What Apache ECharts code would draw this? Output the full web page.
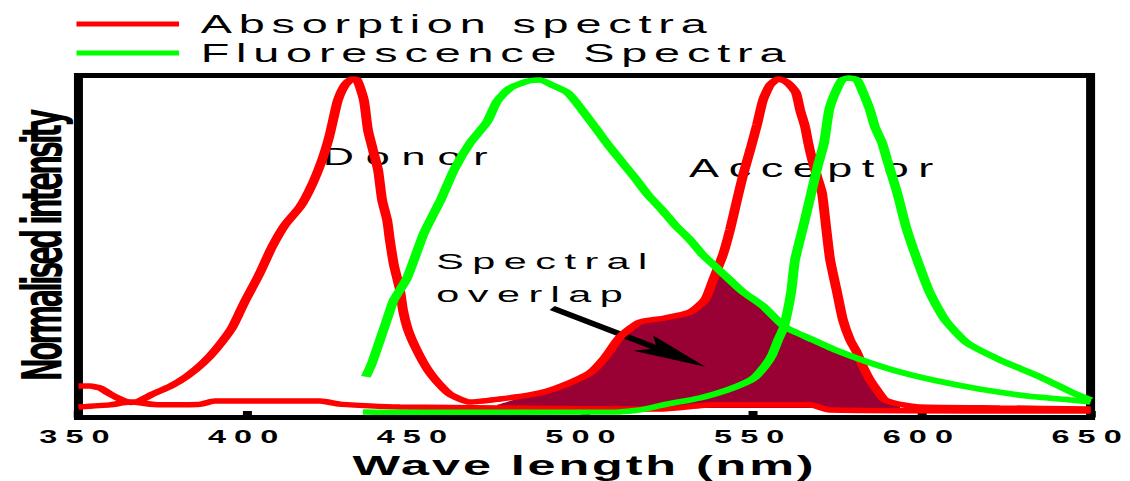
<!DOCTYPE html>
<html>
<head>
<meta charset="utf-8">
<script src="https://cdn.jsdelivr.net/npm/echarts@6/dist/echarts.min.js"></script>
<style>
  html, body { margin: 0; padding: 0; background: #fff; overflow: hidden; }
  #wrap { width: 1130px; height: 481px; overflow: hidden; }
  #main { width: 628px; height: 481px; transform: scaleX(1.799363); transform-origin: 0 0; }
  /* letter spacing per text group (selected by font size) */
  #main text[style*="26px"] { letter-spacing: 3.8px; }
  #main text[style*="24px"] { letter-spacing: 6.6px; }
  #main text[style*="25px"] { letter-spacing: 5.3px; }
  #main text[style*="23px"] { letter-spacing: 4.7px; }
  #main text[style*="18px"] { letter-spacing: 4.5px; }
  #main text[style*="28px"] { letter-spacing: 1.6px; }
  #main text[style*="31px"] { letter-spacing: -2.9px; }
</style>
</head>
<body>
<div id="wrap"><div id="main"></div></div>
<script>
// ---- tick labels / axis ----
const xTicks = [350, 400, 450, 500, 550, 600, 650];
const legendNames = ['Absorption spectra', 'Fluorescence Spectra'];

// ---- Absorption spectra (donor + acceptor, main curve) ----
const absNm  = [350.0, 353.4, 356.4, 359.3, 362.3, 365.3, 367.5, 372.1, 377.4, 382.2, 386.9, 390.8, 395.5, 399.1, 403.5, 407.4, 411.2, 415.7, 419.2, 422.2, 424.3, 425.7, 426.9, 429.0, 431.1, 432.6, 434.6, 435.8, 437.3, 438.8, 440.0, 441.5, 442.3, 443.5, 445.3, 446.2, 447.7, 450.3, 453.6, 457.2, 460.4, 466.1, 474.9, 483.8, 488.9, 494.8, 501.6, 506.1, 510.5, 516.4, 523.8, 531.3, 535.7, 538.1, 541.0, 543.1, 545.2, 547.0, 549.1, 551.1, 552.9, 555.0, 557.4, 559.4, 560.9, 562.7, 563.9, 565.4, 566.3, 567.5, 569.0, 570.4, 571.6, 572.8, 574.9, 576.6, 578.7, 580.8, 582.6, 584.6, 586.7, 589.1, 594.4, 599.4, 623.2, 650.0];
const absVal = [0.092, 0.092, 0.086, 0.069, 0.054, 0.044, 0.046, 0.069, 0.092, 0.121, 0.159, 0.200, 0.262, 0.335, 0.417, 0.499, 0.563, 0.616, 0.680, 0.753, 0.820, 0.879, 0.928, 0.972, 0.990, 0.987, 0.928, 0.841, 0.782, 0.724, 0.636, 0.577, 0.519, 0.446, 0.373, 0.314, 0.256, 0.197, 0.139, 0.095, 0.066, 0.045, 0.054, 0.066, 0.077, 0.098, 0.130, 0.176, 0.235, 0.279, 0.291, 0.308, 0.344, 0.402, 0.475, 0.548, 0.636, 0.709, 0.782, 0.855, 0.928, 0.972, 0.990, 0.984, 0.972, 0.949, 0.899, 0.849, 0.803, 0.753, 0.703, 0.656, 0.557, 0.461, 0.364, 0.285, 0.227, 0.189, 0.148, 0.110, 0.080, 0.051, 0.037, 0.031, 0.028, 0.025];

// ---- Absorption spectra (flat baseline trace) ----
const absBaseNm  = [350.0, 359.3, 365.3, 374.2, 386.0, 390.5, 421.6, 427.5, 436.4, 445.3, 474.9, 510.0, 523.3, 538.1, 566.8, 572.7, 650.0];
const absBaseVal = [0.031, 0.037, 0.045, 0.037, 0.039, 0.048, 0.048, 0.039, 0.034, 0.031, 0.028, 0.025, 0.025, 0.037, 0.037, 0.022, 0.019];

// ---- Fluorescence spectra (donor) ----
const fluoDonorNm  = [435.2, 437.0, 439.4, 441.7, 443.5, 447.4, 452.4, 457.5, 461.3, 466.1, 471.1, 474.1, 477.9, 483.3, 486.8, 490.4, 495.1, 499.3, 503.1, 507.0, 511.1, 515.0, 518.8, 523.0, 526.8, 531.3, 535.1, 539.3, 543.1, 547.0, 552.9, 559.4, 567.7, 575.7, 584.0, 593.5, 604.5, 617.2, 631.2, 644.5, 650.0];
const fluoDonorVal = [0.119, 0.159, 0.227, 0.294, 0.344, 0.408, 0.539, 0.639, 0.724, 0.803, 0.864, 0.925, 0.963, 0.984, 0.987, 0.972, 0.949, 0.899, 0.849, 0.797, 0.747, 0.700, 0.651, 0.607, 0.563, 0.519, 0.475, 0.437, 0.402, 0.367, 0.326, 0.265, 0.227, 0.192, 0.162, 0.133, 0.107, 0.083, 0.063, 0.051, 0.045];

// ---- Fluorescence spectra (acceptor) ----
const fluoAccNm  = [434.3, 445.3, 509.6, 516.4, 524.4, 534.2, 542.2, 547.6, 550.5, 553.5, 555.6, 557.4, 559.1, 561.2, 562.4, 564.8, 567.2, 569.2, 571.0, 572.5, 574.3, 576.3, 578.4, 580.8, 582.6, 584.6, 586.1, 588.2, 589.7, 592.7, 595.3, 598.6, 602.4, 606.9, 613.4, 623.2, 635.0, 644.8, 650.0];
const fluoAccVal = [0.016, 0.015, 0.016, 0.022, 0.039, 0.057, 0.080, 0.101, 0.118, 0.151, 0.183, 0.227, 0.265, 0.364, 0.461, 0.557, 0.656, 0.738, 0.803, 0.899, 0.949, 0.987, 0.993, 0.987, 0.949, 0.899, 0.849, 0.803, 0.753, 0.656, 0.557, 0.461, 0.364, 0.285, 0.218, 0.168, 0.119, 0.072, 0.051];

// ---- Spectral overlap (upper edge of shaded region) ----
const overlapNm  = [474.1, 480.9, 488.9, 494.8, 501.6, 506.1, 510.5, 516.4, 523.8, 531.3, 535.7, 538.1, 539.6, 543.1, 547.0, 552.9, 559.4, 567.7, 575.7, 578.7, 580.8, 582.6, 584.6, 586.7, 589.1, 592.0, 593.5];
const overlapVal = [0.037, 0.057, 0.077, 0.098, 0.130, 0.176, 0.235, 0.279, 0.291, 0.308, 0.344, 0.402, 0.434, 0.402, 0.367, 0.326, 0.265, 0.227, 0.197, 0.183, 0.168, 0.148, 0.110, 0.080, 0.051, 0.037, 0.031];

const pairs = (xs, ys) => xs.map((x, i) => [x, ys[i]]);

const RED = '#ff0000', GREEN = '#00ff00', FILL = '#990033';
const SANS = '"Liberation Sans", Arial, sans-serif';
const NARROW = '"Liberation Sans Narrow", "DejaVu Sans Condensed", "Liberation Sans", sans-serif';

const chart = echarts.init(document.getElementById('main'), null, { renderer: 'svg' });

const lineBase = {
  type: 'line', symbol: 'none', showSymbol: false, clip: false,
  smooth: 0.2, silent: true, animation: false, z: 3
};

chart.setOption({
  animation: false,
  backgroundColor: '#fff',
  grid: {
    left: 43.6, right: 21.9, top: 75.5, bottom: 63.5,
    containLabel: false, outerBoundsMode: 'none',
    show: true, borderColor: '#000', borderWidth: 5
  },
  legend: {
    data: legendNames,
    orient: 'vertical',
    left: 42.5, top: 11,
    padding: 0,
    itemGap: 3,
    itemWidth: 57, itemHeight: 5,
    icon: 'rect',
    selectedMode: false,
    textStyle: { color: '#000', fontSize: 26, fontFamily: SANS, lineHeight: 26, padding: [0, 0, 0, 7] }
  },
  xAxis: {
    type: 'value',
    min: xTicks[0], max: xTicks[xTicks.length - 1], interval: xTicks[1] - xTicks[0],
    name: 'Wave length (nm)', nameLocation: 'middle', nameGap: 34,
    nameTextStyle: { color: '#000', fontSize: 28, lineHeight: 28, fontWeight: 'bold', fontFamily: SANS },
    axisLine: { show: false },
    axisTick: { show: true, inside: true, length: 6.5, lineStyle: { color: '#000', width: 5 } },
    axisLabel: { color: '#000', fontSize: 18, fontWeight: 'bold', fontFamily: SANS, margin: 10 },
    splitLine: { show: false }
  },
  yAxis: {
    type: 'value', min: 0, max: 1,
    name: 'Normalised intensity', nameLocation: 'middle', nameGap: 5,
    nameTextStyle: { color: '#000', fontSize: 31, fontWeight: 'bold', fontFamily: NARROW },
    axisLine: { show: false }, axisTick: { show: false }, axisLabel: { show: false },
    splitLine: { show: false }
  },
  series: [
    {
      name: 'overlap', type: 'line', symbol: 'none', showSymbol: false, silent: true,
      animation: false, z: 1, clip: false, smooth: 0.2,
      data: pairs(overlapNm, overlapVal),
      lineStyle: { width: 0, opacity: 0 },
      areaStyle: { color: FILL, opacity: 1, origin: 0.028 },
      markPoint: {
        silent: true, animation: false, z: 1.5,
        symbol: 'circle', symbolSize: 1,
        itemStyle: { color: 'rgba(0,0,0,0)' },
        data: [
          { coord: [448.6, 0.762], label: { show: true, position: 'inside', formatter: 'Donor',
              color: '#000', fontSize: 24, fontFamily: SANS } },
          { coord: [568.6, 0.7295], label: { show: true, position: 'inside', formatter: 'Acceptor',
              color: '#000', fontSize: 25, fontFamily: SANS } },
          { coord: [455.8, 0.409], label: { show: true, position: 'right', distance: 0, align: 'left',
              formatter: 'Spectral\noverlap', lineHeight: 33,
              color: '#000', fontSize: 23, fontFamily: SANS } }
        ]
      },
      markLine: {
        silent: true, animation: false, z: 2,
        symbol: ['none', 'path://M0,0 L9,40 L0,31 L-9,40 Z M-20,20 L-20,20 M20,20 L20,20'],
        symbolSize: 42,
        label: { show: false },
        lineStyle: { color: '#000', width: 5, type: 'solid', opacity: 1 },
        data: [[{ coord: [490.4, 0.320] }, { coord: [526.6, 0.183] }]]
      }
    },
    Object.assign({}, lineBase, {
      name: legendNames[0], data: pairs(absBaseNm, absBaseVal),
      lineStyle: { color: RED, width: 5.5 }, itemStyle: { color: RED }
    }),
    Object.assign({}, lineBase, {
      name: legendNames[0], data: pairs(absNm, absVal),
      lineStyle: { color: RED, width: 5.5 }, itemStyle: { color: RED }
    }),
    Object.assign({}, lineBase, {
      name: legendNames[1], data: pairs(fluoDonorNm, fluoDonorVal), z: 4,
      lineStyle: { color: GREEN, width: 5.5 }, itemStyle: { color: GREEN }
    }),
    Object.assign({}, lineBase, {
      name: legendNames[1], data: pairs(fluoAccNm, fluoAccVal), z: 4,
      lineStyle: { color: GREEN, width: 5.5 }, itemStyle: { color: GREEN }
    })
  ]
});
</script>
</body>
</html>
